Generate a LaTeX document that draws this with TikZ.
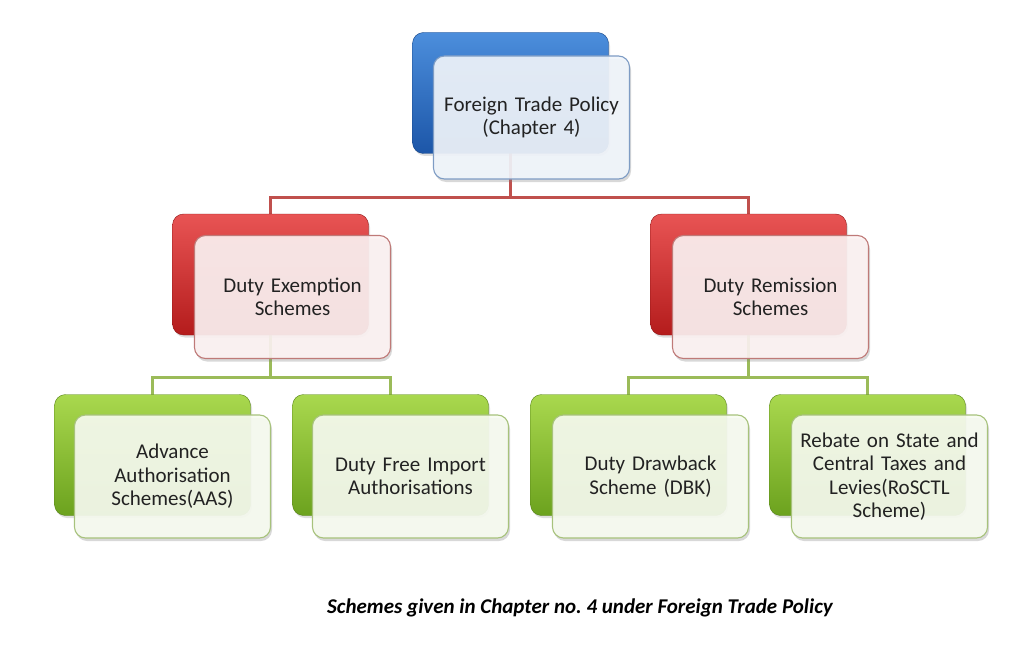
\documentclass[tikz,border=0pt]{standalone}
\usepackage{fontspec}
\setmainfont{Carlito}
\usetikzlibrary{shadows,backgrounds}
\frenchspacing
\definecolor{txt}{HTML}{222222}
\definecolor{blueT}{HTML}{4C8EDC}
\definecolor{blueB}{HTML}{1C56A8}
\definecolor{redT}{HTML}{E85454}
\definecolor{redB}{HTML}{B41C1C}
\definecolor{greenT}{HTML}{A9D84E}
\definecolor{greenB}{HTML}{6CA21E}
\definecolor{redline}{HTML}{C0504D}
\definecolor{greenline}{HTML}{9BBB59}
\definecolor{blueEdge}{HTML}{7E9CC4}
\definecolor{redEdge}{HTML}{BF7A78}
\definecolor{greenEdge}{HTML}{A7C27C}
\tikzset{
  backbox/.style={rectangle, rounded corners=11pt, minimum width=196pt, minimum height=121pt, inner sep=0pt,
    drop shadow={opacity=0.25, shadow xshift=1.5pt, shadow yshift=-2.5pt}},
  bluebox/.style={backbox, top color=blueT, bottom color=blueB, draw=blueB!80!black, line width=0.4pt},
  redbox/.style={backbox, top color=redT, bottom color=redB, draw=redB!80!black, line width=0.4pt},
  greenbox/.style={backbox, top color=greenT, bottom color=greenB, draw=greenB!80!black, line width=0.4pt},
  frontbox/.style={rectangle, rounded corners=11pt, minimum width=196pt, minimum height=123pt, inner sep=2pt,
    text width=192pt, align=center, font=\fontsize{21}{23.5}\selectfont, text=txt, line width=1.1pt,
    fill opacity=0.9, text opacity=1,
    drop shadow={opacity=0.3, shadow xshift=1.5pt, shadow yshift=-3pt}},
  bluefront/.style={frontbox, fill=blueT!8!white, draw=blueEdge},
  redfront/.style={frontbox, fill=redT!7!white, draw=redEdge},
  greenfront/.style={frontbox, fill=greenT!8!white, draw=greenEdge},
  rline/.style={draw=redline, line width=3pt},
  gline/.style={draw=greenline, line width=3pt},
}
\begin{document}
\begin{tikzpicture}[x=1pt,y=-1pt]
\useasboundingbox (0,0) rectangle (1024,671);
% top
\node[bluebox] (bB) at (510.5,93) {};
\node[bluefront] (bF) at (531.5,117.5) {Foreign Trade Policy\\(Chapter 4)};
% red
\node[redbox] (rLB) at (270.5,274.5) {};
\node[redfront] (rLF) at (292.5,297) {Duty Exemption\\Schemes};
\node[redbox] (rRB) at (748.5,274.5) {};
\node[redfront] (rRF) at (770.5,297) {Duty Remission\\Schemes};
% green
\node[greenbox] (g1B) at (152.5,455) {};
\node[greenfront] (g1F) at (172.5,476.5) {Advance\\Authorisation\\Schemes(AAS)};
\node[greenbox] (g2B) at (390.5,455) {};
\node[greenfront] (g2F) at (410.5,476.5) {Duty Free Import\\Authorisations};
\node[greenbox] (g3B) at (628.5,455) {};
\node[greenfront] (g3F) at (650.5,476.5) {Duty Drawback\\Scheme (DBK)};
\node[greenbox] (g4B) at (867.5,455) {};
\node[greenfront] (g4F) at (889.5,476.5) {Rebate on State and\\Central Taxes and\\Levies(RoSCTL\\Scheme)};
% buses
\coordinate (busTop) at (0,197);
\coordinate (busL) at (0,377);
\coordinate (busR) at (0,377);
\begin{scope}[on background layer]
\fill[white] (0,0) rectangle (1024,671);
\draw[rline] (bB.center) -- (bB.center |- busTop) -| (rLB.center);
\draw[rline] (bB.center |- busTop) -| (rRB.center);
\draw[gline] (rLB.center) -- (rLB.center |- busL) -| (g1B.center);
\draw[gline] (rLB.center |- busL) -| (g2B.center);
\draw[gline] (rRB.center) -- (rRB.center |- busR) -| (g3B.center);
\draw[gline] (rRB.center |- busR) -| (g4B.center);
\end{scope}
% caption
\node[font=\fontsize{21}{24}\selectfont\bfseries\itshape, text=black] (cap) at (580,608) {Schemes given in Chapter no. 4 under Foreign Trade Policy};
\end{tikzpicture}
\end{document}
